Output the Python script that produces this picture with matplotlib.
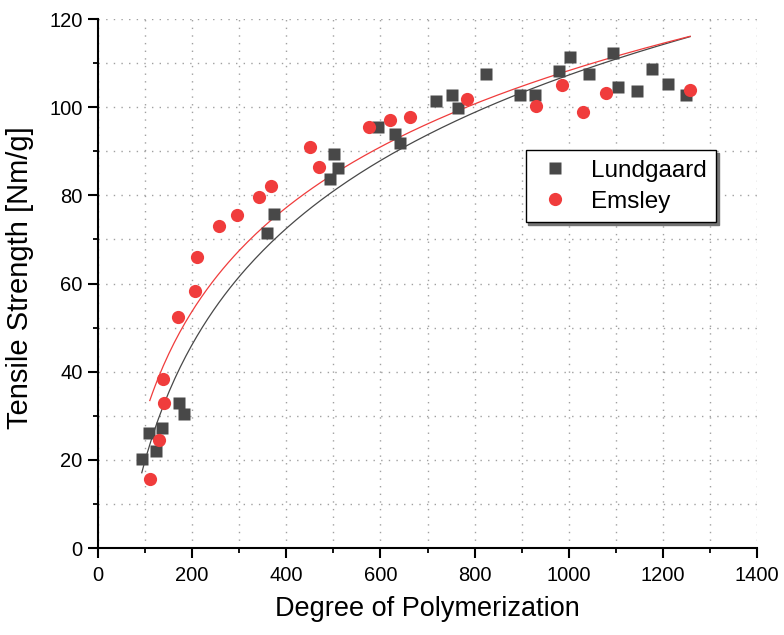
import matplotlib.pyplot as plt
from matplotlib.ticker import MultipleLocator
import numpy as np

plt.rcParams['font.family'] = ['Liberation Sans', 'DejaVu Sans']

# Lundgaard data (degree of polymerization, tensile strength)
lund_dp = [93, 109, 123, 135, 173, 183, 358, 373, 493, 502, 510, 595, 630, 642,
           717, 752, 765, 824, 897, 929, 980, 1003, 1044, 1093, 1105, 1146, 1177,
           1211, 1249]
lund_ts = [20.3, 26.2, 22.0, 27.2, 33.0, 30.4, 71.4, 75.7, 83.7, 89.3, 86.3, 95.5,
           93.9, 91.8, 101.5, 102.8, 99.8, 107.5, 102.8, 102.8, 108.3, 111.5, 107.5,
           112.3, 104.5, 103.7, 108.7, 105.3, 102.8]

# Emsley data
ems_dp = [110, 130, 139, 141, 169, 205, 211, 257, 296, 342, 367, 450, 469, 576,
          620, 663, 784, 930, 986, 1031, 1079, 1258]
ems_ts = [15.7, 24.5, 38.3, 32.8, 52.5, 58.3, 66.1, 73.1, 75.5, 79.7, 82.1, 91.0,
          86.4, 95.5, 97.1, 97.8, 101.8, 100.2, 105.0, 99.0, 103.2, 103.9]

LUND_COLOR = '#484848'
EMS_COLOR = '#f03c3c'


def logFit(x, y, x_end):
    # fit y = a + b*ln(x) to the points
    b, a = np.polyfit(np.log(x), y, 1)
    xs = np.linspace(min(x), x_end, 200)
    return xs, a + b * np.log(xs)


fig = plt.figure(figsize=(7.84, 6.35), dpi=100)
ax = fig.add_axes([0.125, 0.137, 0.8406, 0.833])

x_end = max(max(lund_dp), max(ems_dp))
xs, ys = logFit(lund_dp, lund_ts, x_end)
ax.plot(xs, ys, color=LUND_COLOR, lw=0.9)
xs, ys = logFit(ems_dp, ems_ts, x_end)
ax.plot(xs, ys, color=EMS_COLOR, lw=0.9)

ax.plot(lund_dp, lund_ts, 's', color=LUND_COLOR, ms=8.5, mec='none', label='Lundgaard')
ax.plot(ems_dp, ems_ts, 'o', color=EMS_COLOR, ms=9.5, mec='none', label='Emsley')

ax.set_xlim(0, 1400)
ax.set_ylim(0, 120)
ax.xaxis.set_major_locator(MultipleLocator(200))
ax.xaxis.set_minor_locator(MultipleLocator(100))
ax.yaxis.set_major_locator(MultipleLocator(20))
ax.yaxis.set_minor_locator(MultipleLocator(10))

grid_kw = dict(color='#a0a0a0', lw=1, linestyle=(0, (1, 4.5)))
ax.grid(True, which='both', **grid_kw)
ax.set_axisbelow(True)

for side in ['top', 'right']:
    ax.spines[side].set_visible(False)
for side in ['left', 'bottom']:
    ax.spines[side].set_linewidth(1.5)

ax.tick_params(which='major', direction='out', length=7, width=1.5, labelsize=14.5, pad=4)
ax.tick_params(which='minor', direction='out', length=3.5, width=1.3)
ax.tick_params(axis='x', which='major', pad=6)

ax.set_xlabel('Degree of Polymerization', fontsize=19.5, labelpad=8)
ax.set_ylabel('Tensile Strength [Nm/g]', fontsize=21)
ax.yaxis.set_label_coords(-0.097, 0.511)

leg = ax.legend(loc='upper left', bbox_to_anchor=(0.649, 0.752), borderaxespad=0,
                fontsize=17.5, fancybox=False, edgecolor='black', framealpha=1,
                shadow={'color': '0.45', 'alpha': 1}, handlelength=1.6,
                handletextpad=0.68, borderpad=0.4, labelspacing=0.36)
leg.get_frame().set_linewidth(1.0)

fig.savefig('out.png', dpi=100)
